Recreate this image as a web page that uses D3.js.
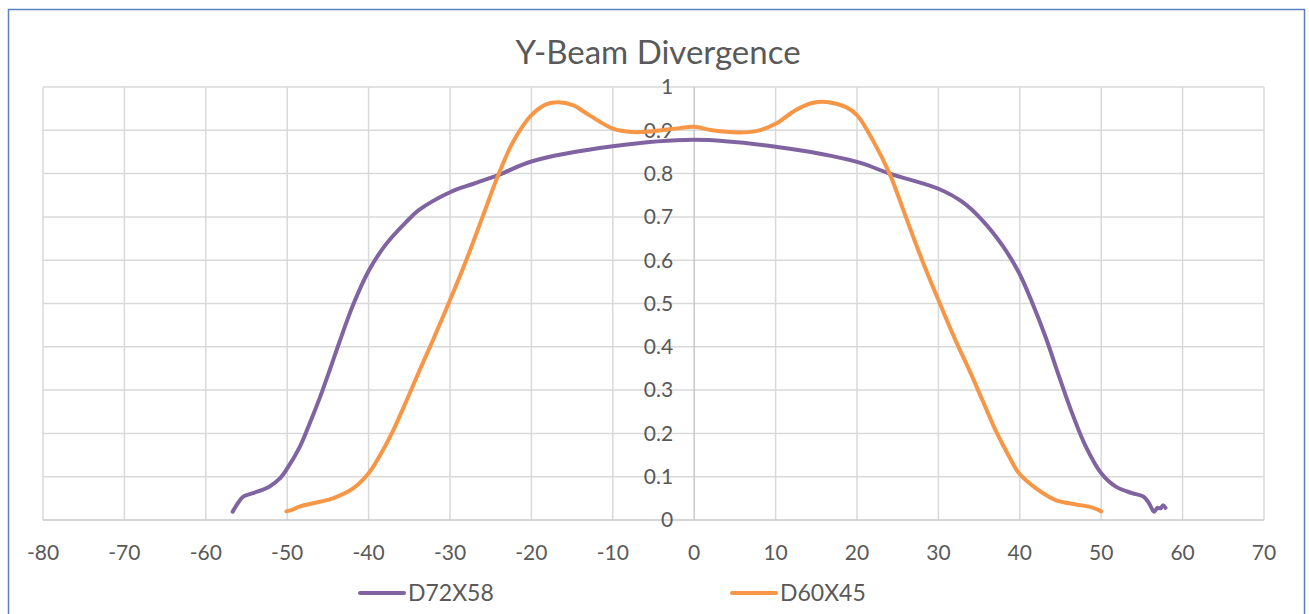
<!DOCTYPE html>
<html>
<head>
<meta charset="utf-8">
<script src="https://cdn.jsdelivr.net/npm/d3@7"></script>
<style>
  body { margin: 0; background: #fff; }
  text { font-family: Lato, "Noto Sans", sans-serif; fill: #595959; }
</style>
</head>
<body>
<svg id="chart"></svg>
<script>
//chart title and series names
var title = 'Y-Beam Divergence';
var seriesNames = ['D72X58', 'D60X45'];

//tick values
var xTicks = d3.range(-80, 71, 10);
var yTicks = [0, 0.1, 0.2, 0.3, 0.4, 0.5, 0.6, 0.7, 0.8, 0.9, 1];

//D72X58 (purple) angle / intensity readings
var d72x = [-56.7, -56.1, -55.4, -54.2, -52.2, -50.9, -50, -48.5, -47.3, -46, -44.8, -43.6, -41.9, -40, -37.9, -35.4, -33.8, -30, -27.2, -24, -20, -10, 0,
            10, 20, 24, 30, 32.9, 35.4, 37.9, 39.9, 41.5, 43.2, 44.8, 46.4, 48.1, 50, 51.8, 53.8, 55.2, 55.9, 56.5, 56.9, 57.3, 57.6, 57.9];
var d72y = [0.019, 0.038, 0.054, 0.062, 0.077, 0.096, 0.119, 0.167, 0.22, 0.282, 0.345, 0.41, 0.497, 0.575, 0.636, 0.688, 0.716, 0.757, 0.776, 0.797, 0.828, 0.863, 0.878,
            0.862, 0.827, 0.8, 0.765, 0.735, 0.692, 0.633, 0.571, 0.503, 0.421, 0.333, 0.248, 0.17, 0.108, 0.077, 0.062, 0.054, 0.038, 0.019, 0.028, 0.027, 0.034, 0.028];

//D60X45 (orange) angle / intensity readings
var d60x = [-50.1, -49.3, -48.5, -46, -44.4, -41.9, -40, -38.7, -37, -35.4, -33.8, -32.1, -30, -28, -26, -24, -22.2, -20, -18.2, -16.7, -14.9, -12.9, -10, -7.6, -5.1, -1.8, 0,
            2.2, 5.5, 7.6, 10, 12.4, 14.5, 16.5, 18.6, 20, 22, 24, 26, 28, 30, 32.1, 33.8, 35.4, 37, 38.7, 39.9, 42, 44.4, 46.9, 48.5, 49.3, 50];
var d60y = [0.02, 0.024, 0.031, 0.042, 0.05, 0.073, 0.108, 0.146, 0.206, 0.273, 0.343, 0.415, 0.508, 0.6, 0.7, 0.8, 0.875, 0.935, 0.96, 0.965, 0.958, 0.935, 0.904, 0.896, 0.898, 0.905, 0.908,
            0.9, 0.895, 0.898, 0.915, 0.946, 0.963, 0.965, 0.954, 0.935, 0.875, 0.8, 0.7, 0.6, 0.508, 0.415, 0.346, 0.277, 0.208, 0.146, 0.108, 0.073, 0.046, 0.036, 0.031, 0.026, 0.02];

var colors = ['#8064a2', '#f79646'];

//svg setup
var svg = d3.select('#chart')
    .attr('width', 1309)
    .attr('height', 614);

//chart border
svg.append('rect')
    .attr('x', 8.5).attr('y', 9.5)
    .attr('width', 1296).attr('height', 620)
    .attr('fill', 'none')
    .attr('stroke', '#5b80c4')
    .attr('stroke-width', 1.5);

//scales
var x = d3.scaleLinear().domain([-80, 70]).range([43, 1264]);
var y = d3.scaleLinear().domain([0, 1]).range([520, 87]);

//grid lines
svg.append('g')
    .selectAll('line').data(yTicks.slice(1))
    .enter().append('line')
        .attr('x1', x(-80)).attr('x2', x(70))
        .attr('y1', d => y(d)).attr('y2', d => y(d))
        .attr('stroke', '#d9d9d9').attr('stroke-width', 1.5);

svg.append('g')
    .selectAll('line').data(xTicks.filter(d => d !== 0))
    .enter().append('line')
        .attr('x1', d => x(d)).attr('x2', d => x(d))
        .attr('y1', y(0)).attr('y2', y(1))
        .attr('stroke', '#d9d9d9').attr('stroke-width', 1.5);

//axes lines
svg.append('line')
    .attr('x1', x(-80)).attr('x2', x(70))
    .attr('y1', y(0)).attr('y2', y(0))
    .attr('stroke', '#c8c8c8').attr('stroke-width', 1.5);
svg.append('line')
    .attr('x1', x(0)).attr('x2', x(0))
    .attr('y1', y(0)).attr('y2', y(1))
    .attr('stroke', '#c8c8c8').attr('stroke-width', 1.5);

//tick labels
svg.append('g')
    .selectAll('text').data(yTicks)
    .enter().append('text')
        .attr('x', x(0) - 21)
        .attr('y', d => y(d))
        .attr('dy', '0.35em')
        .attr('text-anchor', 'end')
        .style('font-size', '21px')
        .text(d => d3.format('~g')(d));

svg.append('g')
    .selectAll('text').data(xTicks)
    .enter().append('text')
        .attr('x', d => x(d))
        .attr('y', 553)
        .attr('dy', '0.35em')
        .attr('text-anchor', 'middle')
        .style('font-size', '21px')
        .text(d => d);

//title
svg.append('text')
    .attr('x', 658).attr('y', 64)
    .attr('text-anchor', 'middle')
    .style('font-size', '33px')
    .text(title);

//series lines
var line = d3.line()
    .x(d => x(d[0]))
    .y(d => y(d[1]))
    .curve(d3.curveCatmullRom.alpha(0.5));

var series = [d3.zip(d72x, d72y), d3.zip(d60x, d60y)];

svg.append('g')
    .selectAll('path').data(series)
    .enter().append('path')
        .attr('d', line)
        .attr('fill', 'none')
        .attr('stroke', (d, i) => colors[i])
        .attr('stroke-width', 4)
        .attr('stroke-linecap', 'round')
        .attr('stroke-linejoin', 'round');

//legend
var legendX = [360, 732];
var legend = svg.append('g')
    .selectAll('g').data(seriesNames)
    .enter().append('g')
        .attr('transform', (d, i) => 'translate(' + legendX[i] + ',593)');
legend.append('line')
    .attr('x1', 0).attr('x2', 44)
    .attr('stroke', (d, i) => colors[i])
    .attr('stroke-width', 4)
    .attr('stroke-linecap', 'round');
legend.append('text')
    .attr('x', 48)
    .attr('dy', '0.35em')
    .style('font-size', '23px')
    .text(d => d);
</script>
</body>
</html>
